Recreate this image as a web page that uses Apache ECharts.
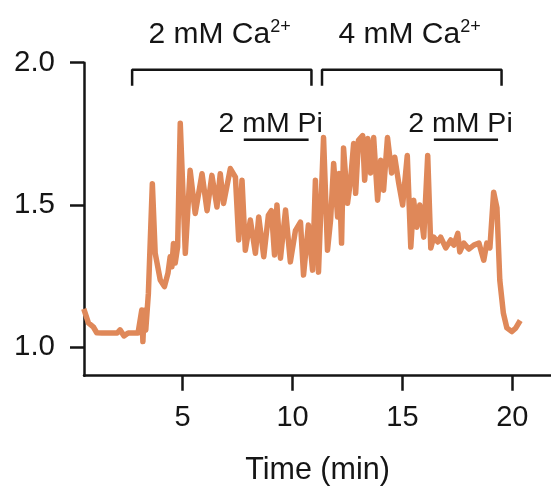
<!DOCTYPE html>
<html>
<head>
<meta charset="utf-8">
<script src="https://cdn.jsdelivr.net/npm/echarts@6/dist/echarts.min.js"></script>
<style>
  html, body { margin: 0; padding: 0; background: #fff; }
  #chart { width: 551px; height: 487px; }
</style>
</head>
<body>
<div id="chart"></div>
<script>
// trace: time (min) vs. ratio
const time = [0.50, 0.71, 0.93, 1.09, 1.33, 1.70, 2.02, 2.15, 2.33, 2.52, 2.79, 2.97, 3.06, 3.14, 3.19, 3.25,
  3.32, 3.44, 3.62, 3.75, 3.98, 4.17, 4.33, 4.43, 4.51, 4.58, 4.66, 4.77, 4.89, 5.12, 5.34, 5.57,
  5.88, 6.11, 6.33, 6.56, 6.71, 6.86, 7.17, 7.40, 7.55, 7.70, 7.85, 8.08, 8.31, 8.46, 8.69, 8.90,
  9.04, 9.18, 9.29, 9.45, 9.68, 9.90, 10.13, 10.36, 10.50, 10.72, 10.91, 11.04, 11.18, 11.41, 11.59, 11.73,
  11.87, 12.05, 12.12, 12.23, 12.32, 12.50, 12.64, 12.78, 12.87, 13.00, 13.19, 13.28, 13.42, 13.55, 13.69, 13.87,
  14.01, 14.14, 14.32, 14.51, 14.65, 14.83, 15.01, 15.22, 15.38, 15.51, 15.65, 15.79, 15.97, 16.15, 16.29, 16.42,
  16.61, 16.74, 16.97, 17.20, 17.34, 17.52, 17.61, 17.79, 18.02, 18.25, 18.48, 18.70, 18.84, 18.98, 19.15, 19.30,
  19.43, 19.59, 19.75, 19.98, 20.16, 20.36];
const ratio = [1.135, 1.086, 1.072, 1.051, 1.05, 1.05, 1.05, 1.061, 1.04, 1.05, 1.05, 1.05, 1.054, 1.131, 1.02, 1.13,
  1.06, 1.19, 1.575, 1.33, 1.236, 1.213, 1.26, 1.318, 1.283, 1.365, 1.296, 1.353, 1.787, 1.33, 1.622, 1.47,
  1.61, 1.48, 1.604, 1.493, 1.61, 1.505, 1.628, 1.598, 1.377, 1.587, 1.341, 1.447, 1.33, 1.458, 1.318, 1.464,
  1.48, 1.324, 1.50, 1.313, 1.482, 1.30, 1.41, 1.44, 1.254, 1.43, 1.271, 1.587, 1.264, 1.737, 1.341, 1.447,
  1.646, 1.458, 1.611, 1.366, 1.70, 1.506, 1.587, 1.716, 1.541, 1.727, 1.744, 1.587, 1.734, 1.612, 1.737, 1.517,
  1.657, 1.552, 1.737, 1.612, 1.668, 1.577, 1.50, 1.674, 1.352, 1.517, 1.422, 1.50, 1.387, 1.674, 1.349, 1.387,
  1.37, 1.387, 1.349, 1.377, 1.359, 1.40, 1.335, 1.366, 1.345, 1.359, 1.366, 1.306, 1.366, 1.349, 1.545, 1.49,
  1.236, 1.121, 1.068, 1.055, 1.068, 1.094];

const xTicks = [5, 10, 15, 20];
const yTicks = [1.0, 1.5, 2.0];

// treatment periods (min)
const caLabels = ['2 mM Ca', '4 mM Ca'];
const caStart = [2.70, 11.34];
const caEnd = [10.86, 19.51];
const piLabels = ['2 mM Pi', '2 mM Pi'];
const piStart = [7.78, 16.43];
const piEnd = [10.73, 19.35];

const FONT = '"Liberation Sans", Arial, Helvetica, sans-serif';
const INK = '#151515';
const BRACKET_TOP = 1.975, BRACKET_LEG = 1.919, PI_BAR = 1.729;

const chart = echarts.init(document.getElementById('chart'), null, { renderer: 'canvas' });

const trace = time.map((t, i) => [t, ratio[i]]);

const bracketSeries = caStart.map((s, i) => ({
  type: 'line',
  data: [[s, BRACKET_LEG], [s, BRACKET_TOP], [caEnd[i], BRACKET_TOP], [caEnd[i], BRACKET_LEG]],
  symbol: 'none',
  lineStyle: { color: INK, width: 2.5 },
  silent: true,
  animation: false
}));

const piSeries = piStart.map((s, i) => ({
  type: 'line',
  data: [[s, PI_BAR], [piEnd[i], PI_BAR]],
  symbol: 'none',
  lineStyle: { color: INK, width: 2.5 },
  silent: true,
  animation: false
}));

chart.setOption({
  animation: false,
  grid: { left: 84, top: 62.7, right: 0, bottom: 111.3, containLabel: false, outerBoundsMode: 'none' },
  xAxis: {
    type: 'value',
    min: 0.51,
    max: 21.76,
    axisLine: { onZero: false, lineStyle: { color: INK, width: 2.5 } },
    axisTick: { show: true, length: 15, customValues: xTicks, lineStyle: { color: INK, width: 2.5 } },
    axisLabel: { customValues: xTicks, fontSize: 29, color: INK, margin: 28, fontFamily: FONT },
    splitLine: { show: false },
    name: 'Time (min)',
    nameLocation: 'middle',
    nameGap: 79,
    nameTextStyle: { fontSize: 30.5, color: INK, fontFamily: FONT, verticalAlign: 'top' }
  },
  yAxis: {
    type: 'value',
    min: 0.9,
    max: 2.0,
    axisLine: { show: true, onZero: false, lineStyle: { color: INK, width: 2.5 } },
    axisTick: { show: true, length: 14, customValues: yTicks, lineStyle: { color: INK, width: 2.5 } },
    axisLabel: {
      customValues: yTicks, fontSize: 29.5, color: INK, margin: 29, fontFamily: FONT,
      padding: [9, 0, 0, 0],
      formatter: v => v.toFixed(1)
    },
    splitLine: { show: false }
  },
  series: [{
    type: 'line',
    data: trace,
    symbol: 'none',
    lineStyle: { color: '#DF8859', width: 5.5, join: 'round' },
    itemStyle: { color: '#DF8859' },
    z: 3
  }].concat(bracketSeries, piSeries)
});

// annotation texts positioned through the axes
const graphics = [];
caLabels.forEach((txt, i) => {
  const mid = (caStart[i] + caEnd[i]) / 2 - 0.1;
  const p = chart.convertToPixel({ gridIndex: 0 }, [mid, BRACKET_TOP]);
  graphics.push({
    type: 'text',
    x: p[0],
    y: p[1] - 35,
    style: {
      text: '{a|' + txt + '}{s|2+}',
      align: 'center',
      verticalAlign: 'middle',
      rich: {
        a: { fontSize: 30, fontFamily: FONT, fill: INK, lineHeight: 34 },
        s: { fontSize: 18, fontFamily: FONT, fill: INK, verticalAlign: 'top', lineHeight: 18 }
      }
    }
  });
});
piLabels.forEach((txt, i) => {
  const mid = (piStart[i] + piEnd[i]) / 2 - 0.25;
  const p = chart.convertToPixel({ gridIndex: 0 }, [mid, PI_BAR]);
  graphics.push({
    type: 'text',
    x: p[0],
    y: p[1] - 16,
    style: {
      text: txt,
      align: 'center',
      verticalAlign: 'middle',
      fontSize: 28.5,
      fontFamily: FONT,
      fill: INK
    }
  });
});
chart.setOption({ graphic: graphics });
</script>
</body>
</html>
